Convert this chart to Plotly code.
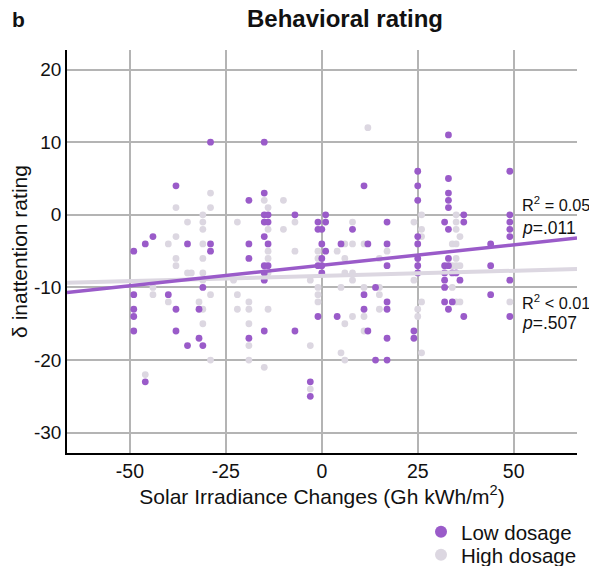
import plotly.graph_objects as go

# ---- data ----
low_x = [-49, -49, -49, -49, -49, -46, -46, -44, -40, -38, -38, -38, -35, -35,
         -32, -32, -31, -31, -29, -29, -29, -19, -19, -19, -19,
         -15, -15, -15, -15, -15, -15, -15, -15, -15, -14, -14, -14, -14,
         -7, -7, -3, -3, -1, -1, -1, -1, 0, 0, 0, 0, 0, 1, 1, 1, 5, 4, 8,
         11, 11, 11, 12, 12, 14, 14, 17, 17, 17, 17, 17, 17, 17,
         25, 25, 25, 25, 25, 25, 25, 25, 24, 24,
         32, 32, 32, 32, 32, 32, 33, 33, 33, 33, 33, 33, 33, 33, 33,
         34, 34, 35, 36, 37, 37, 37, 44, 44, 44,
         49, 49, 49, 49, 49, 49, 49]
low_y = [-5, -11, -13, -14, -16, -4, -23, -3, -11, 4, -13, -16, -4, -18,
         -13, -17, -10, -18, 10, -4, -5, 2, -4, -6, -17,
         10, 3, 0, -1, -3, -7, -8, -9, -16, 0, -1, -4, -7,
         0, -16, -23, -25, -1, -2, -7, -14, -2, -4, -6, -7, -8, 0, -1, -5, -4, -14, -2,
         4, -11, -13, -4, -16, -10, -20, -1, -4, -7, -12, -13, -17, -20,
         6, 4, 2, -3, -4, -6, -7, -8, -16, -17,
         -1, -7, -8, -9, -10, -12, 11, 5, 3, 2, 1, -2, -6, -7, -13,
         -8, -12, -8, -9, 0, -1, -14, -4, -7, -11,
         6, 0, -1, -2, -3, -9, -14]

high_x = [-46, -44, -44, -40, -40, -38, -38, -38, -38, -35, -35, -34,
          -31, -31, -31, -31, -31, -31, -31, -31, -31, -32,
          -29, -29, -29, -29, -23, -22, -22, -22, -19, -19, -19, -19, -19,
          -15, -15, -14, -14, -14, -14, -14, -14, -10, -10, -7, -7,
          -3, -3, -3, -1, -1, -1, -1, -1, 4, 5, 5, 6, 6, 6, 6, 6,
          8, 8, 8, 8, 8, 11, 11, 11, 11, 12, 15, 15, 15, 15, 17,
          24, 24, 25, 25, 26, 26, 26, 26, 26,
          34, 34, 34, 35, 35, 35, 35, 35, 35, 35, 36, 36, 36, 49]
high_y = [-22, -10, -11, -4, -12, 1, -3, -6, -7, -1, -8, -8,
          0, -1, -2, -4, -6, -8, -9, -13, -15, -12,
          3, 1, -11, -20, -9, -1, -11, -13, -12, -13, -15, -18, -20,
          2, -21, 1, -2, -5, -6, -8, -13, 2, -2, -1, -5,
          -9, -18, -24, -5, -6, -10, -11, -12, -5, -10, -19, -4, -6, -8, -15, -20,
          -1, -4, -8, -9, -14, -4, -10, -14, -16, 12, -6, -10, -11, -13, -5,
          -1, -9, -13, -14, 0, -2, -3, -12, -19,
          -4, -7, -10, 0, -1, -2, -4, -6, -7, -12, -3, -7, -12, -12]

# regression fits (slope, intercept) as shown in the reference
low_fit = (0.0564, -6.95)
high_fit = (0.0142, -8.41)

x_range = [-66.4, 66.5]
y_range = [-32.8, 22.7]
x_ticks = [-50, -25, 0, 25, 50]
x_tick_text = ["-50", "-25", "0", "25", "50"]
y_ticks = [20, 10, 0, -10, -20, -30]
y_tick_text = ["20", "10", "0", "-10", "-20", "-30"]

low_stats = ["R<sup>2</sup> = 0.05", "<i>p</i>=.011"]
high_stats = ["R<sup>2</sup> &lt; 0.01", "<i>p</i>=.507"]

LOW_C = "#9a5bc9"
HIGH_C = "#dcd7e1"
FONT = "Liberation Sans, Arial, sans-serif"
# the page body adds an 8px offset, so the figure is 8px smaller than the window
OFF = 8
W, H = 597 - OFF, 566 - OFF
L, R, T, B = 67 - OFF, 20, 50 - OFF, 113
PW, PH = W - L - R, H - T - B

fig = go.Figure()
fig.add_trace(go.Scatter(x=high_x, y=high_y, mode="markers", name="High dosage",
                         marker=dict(color=HIGH_C, size=6.8), legend="legend2"))
fig.add_trace(go.Scatter(x=low_x, y=low_y, mode="markers", name="Low dosage",
                         marker=dict(color=LOW_C, size=6.8), legend="legend"))
fig.add_trace(go.Scatter(x=x_range, y=[high_fit[0] * v + high_fit[1] for v in x_range],
                         mode="lines", line=dict(color=HIGH_C, width=4),
                         showlegend=False, hoverinfo="skip"))
fig.add_trace(go.Scatter(x=x_range, y=[low_fit[0] * v + low_fit[1] for v in x_range],
                         mode="lines", line=dict(color=LOW_C, width=3.5),
                         showlegend=False, hoverinfo="skip"))

for txt, yv, fs in zip(low_stats, [1.5, -1.8], [16.3, 17.5]):
    fig.add_annotation(x=51.6, y=yv, xref="x", yref="y", text=txt, showarrow=False,
                       xanchor="left", yanchor="middle",
                       font=dict(family=FONT, size=fs, color="#111"))
for txt, yv, fs in zip(high_stats, [-12.0, -14.9], [16.3, 17.5]):
    fig.add_annotation(x=51.6, y=yv, xref="x", yref="y", text=txt, showarrow=False,
                       xanchor="left", yanchor="middle",
                       font=dict(family=FONT, size=fs, color="#111"))

fig.add_annotation(x=(10 - OFF - L) / PW, y=1 + (T - (19 - OFF)) / PH, xref="paper",
                   yref="paper", text="<b>b</b>", showarrow=False, xanchor="left",
                   yanchor="middle", font=dict(family=FONT, size=21, color="#111"))

leg_common = dict(xref="container", yref="container", xanchor="left", yanchor="middle",
                  font=dict(size=20.5, family=FONT, color="#111"), itemwidth=30,
                  itemsizing="constant", bgcolor="rgba(0,0,0,0)")
fig.update_layout(
    width=W, height=H,
    margin=dict(l=L, r=R, t=T, b=B, autoexpand=False),
    paper_bgcolor="white", plot_bgcolor="white",
    font=dict(family=FONT, size=19, color="#111"),
    title=dict(text="<b>Behavioral rating</b>", x=(345 - OFF) / W, xanchor="center",
               xref="container", y=1 - (19 - OFF) / H, yanchor="middle", yref="container",
               font=dict(size=24, family=FONT, color="#111")),
    legend=dict(x=(421 - OFF) / W, y=1 - (532 - OFF) / H, **leg_common),
    legend2=dict(x=(421 - OFF) / W, y=1 - (555 - OFF) / H, **leg_common),
    showlegend=True,
)
fig.update_xaxes(range=x_range, tickvals=x_ticks, ticktext=x_tick_text, showgrid=True,
                 gridcolor="#b4b4b4", gridwidth=1.5, zeroline=False, showline=True,
                 linecolor="black", linewidth=1.5, ticks="", tickfont=dict(size=19.5),
                 automargin=False,
                 title=dict(text="Solar Irradiance Changes (Gh kWh/m<sup>2</sup>)",
                            font=dict(size=21), standoff=1))
fig.update_yaxes(range=y_range, tickvals=y_ticks, ticktext=y_tick_text, showgrid=True,
                 gridcolor="#b4b4b4", gridwidth=1.5, zeroline=False, showline=True,
                 linecolor="black", linewidth=1.5, ticks="", tickfont=dict(size=19),
                 automargin=False,
                 title=dict(text="δ inattention rating", font=dict(size=21), standoff=2))

fig.write_html("out.html")
